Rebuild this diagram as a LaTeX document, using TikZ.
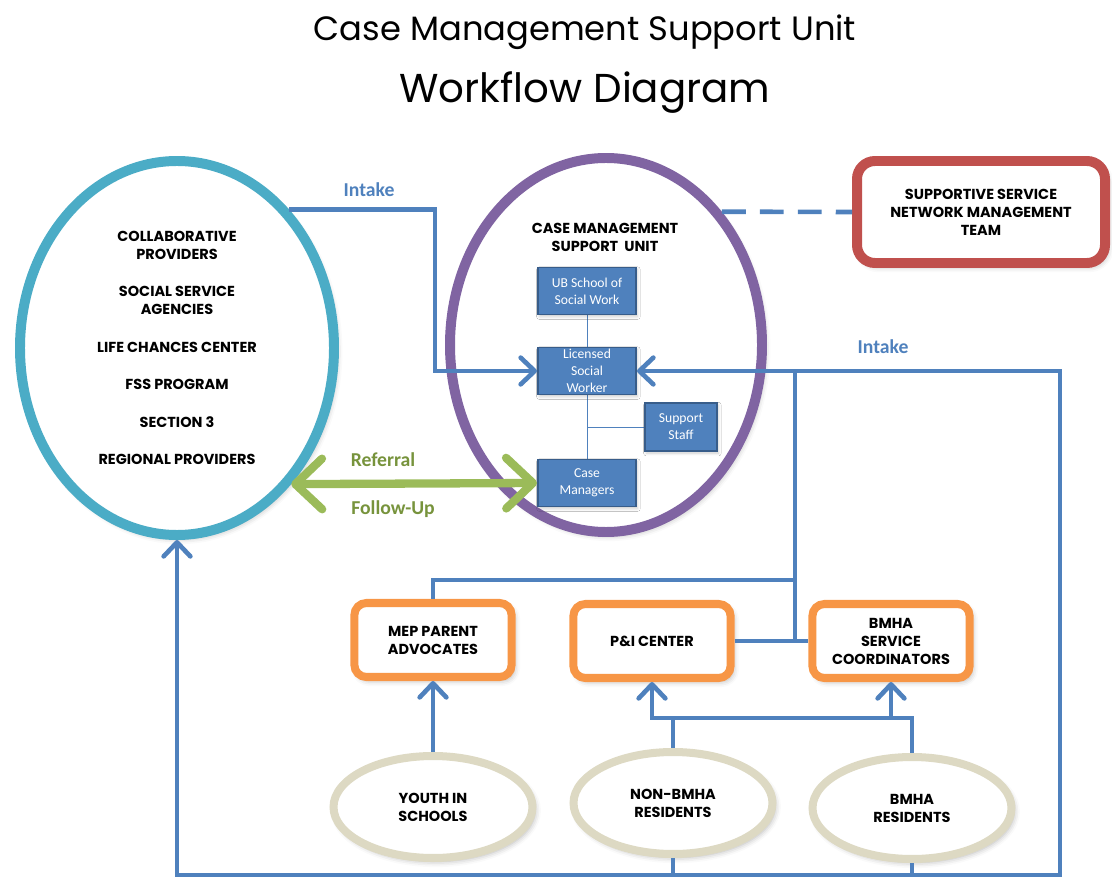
\documentclass[tikz,border=0pt]{standalone}
\usepackage{fontspec}
\setmainfont{Poppins}
\newfontfamily\calibri{Carlito}
\usetikzlibrary{arrows.meta,shapes.geometric,shadows.blur}
\definecolor{flowblue}{HTML}{4F81BD}
\definecolor{boxedge}{HTML}{385D8A}
\definecolor{provider}{HTML}{4BACC6}
\definecolor{unitpurple}{HTML}{8064A2}
\definecolor{teamred}{HTML}{C0504D}
\definecolor{agentorange}{HTML}{F79646}
\definecolor{residenttan}{HTML}{DDD9C3}
\definecolor{refergreen}{HTML}{9BBB59}
\definecolor{refertext}{HTML}{77933C}

\begin{document}
\begin{tikzpicture}[scale=0.25]
\tikzstyle{every node}+=[inner sep=0pt]
\tikzstyle{soft}=[blur shadow={shadow xshift=2pt,shadow yshift=-2.5pt,shadow opacity=30,shadow blur radius=4pt}]
\tikzstyle{caps}=[font=\fontsize{10.3}{12.8}\selectfont\bfseries,align=center]
\tikzstyle{staff}=[draw=boxedge,fill=flowblue,line width=1.4pt,text=white,align=center,font=\calibri\fontsize{9.7}{12}\selectfont,minimum width=2.45cm,minimum height=1.175cm,blur shadow={shadow xshift=1pt,shadow yshift=-1.5pt,shadow opacity=20,shadow blur radius=2pt}]
\tikzstyle{agent}=[caps,draw=agentorange,fill=white,line width=5.7pt,rounded corners=0.3cm,minimum width=3.93cm,minimum height=1.85cm,soft]
\tikzstyle{people}=[caps,ellipse,draw=residenttan,fill=white,line width=5.7pt,minimum width=4.975cm,minimum height=2.55cm,soft]
\tikzstyle{flow}=[draw=flowblue,line width=3.3pt,>={Straight Barb[length=10pt,width=19pt,round]}]
\tikzstyle{refer}=[draw=refergreen,line width=5.9pt,<->,>={Straight Barb[length=19pt,width=36pt,round]}]
\tikzstyle{tag}=[font=\calibri\bfseries\fontsize{14}{16}\selectfont]
\useasboundingbox (0,0) rectangle (111.2,-87.8);
\draw (58.5,-3.2) node[font=\fontsize{24}{29}\selectfont] (title) {Case Management Support Unit};
\draw (58.5,-9.3) node[font=\fontsize{28.7}{34}\selectfont] (subtitle) {Workflow Diagram};
\node[caps,ellipse,draw=provider,fill=white,line width=7.1pt,minimum width=7.85cm,minimum height=9.35cm,soft] (prov) at (17.7,-34.8) {COLLABORATIVE\\PROVIDERS\\[13.9pt]SOCIAL SERVICE\\AGENCIES\\[13.9pt]LIFE CHANCES CENTER\\[13.9pt]FSS PROGRAM\\[13.9pt]SECTION 3\\[13.9pt]REGIONAL PROVIDERS};
\node[ellipse,draw=unitpurple,fill=white,line width=7.1pt,minimum width=7.8cm,minimum height=9.35cm,soft] (unit) at (60.6,-34.5) {};
\node[caps] (unittitle) at (60.5,-23.75) {CASE MANAGEMENT\\SUPPORT\ \ UNIT};
\node[caps,draw=teamred,fill=white,line width=7.1pt,rounded corners=0.45cm,minimum width=6.2cm,minimum height=2.55cm,soft] (team) at (98.1,-21.2) {SUPPORTIVE SERVICE\\NETWORK MANAGEMENT\\TEAM};
\draw[flowblue,line width=0.7pt] (58.7,-29.1) -- (58.7,-48.3) (58.7,-42.7) -- (68.1,-42.7);
\node[staff] (ub) at (58.7,-29.1) {UB School of\\Social Work};
\node[staff] (lsw) at (58.7,-37.1) {Licensed\\Social\\Worker};
\node[staff,minimum width=1.8cm,minimum height=1.2cm] (sup) at (68.1,-42.7) {Support\\Staff};
\node[staff] (cm) at (58.7,-48.3) {Case\\Managers};
\node[agent] (mep) at (43.3,-64.0) {MEP PARENT\\ADVOCATES};
\node[agent] (pic) at (65.2,-64.1) {P\&I CENTER};
\node[agent] (bsc) at (89.1,-64.1) {BMHA\\SERVICE\\COORDINATORS};
\node[people] (youth) at (43.3,-80.7) {YOUTH IN\\SCHOOLS};
\node[people] (nonres) at (67.3,-80.3) {NON-BMHA\\RESIDENTS};
\node[people] (bres) at (91.2,-80.8) {BMHA\\RESIDENTS};
\coordinate (se) at (106.0,-87.5);
\coordinate (hub) at (79.5,-37.1);
\coordinate (ja) at (65.2,-71.8);
\draw[flow,->] (prov.51) -| (43.5,-37.1) -- (lsw.west);
\draw[flow,<->] (prov.south) |- (se) |- (lsw.east);
\draw[flow] (hub) -- (hub |- pic.east);
\draw[flow] (pic.east) -- (bsc.west);
\draw[flow] (mep.north) |- (79.5,-58.0);
\draw[flow,dash pattern=on 17pt off 10pt] (unit.49) -- (team.west);
\draw[flow,->] (youth.north) -- (mep.south);
\draw[flow,->] (bres.north) |- (ja) -- (pic.south);
\draw[flow] (nonres.north) -- (nonres.north |- ja);
\draw[flow,->] (bsc.south |- ja) -- (bsc.south);
\draw[flow] (nonres.south) -- (nonres.south |- se);
\draw[flow] (bres.south) -- (bres.south |- se);
\draw[refer] (prov.-50) -- (cm.west);
\draw (36.9,-19.0) node[tag,text=flowblue] (intake) {Intake};
\draw (88.3,-34.7) node[tag,text=flowblue] (intakeb) {Intake};
\draw (38.3,-46.0) node[tag,text=refertext] (referral) {Referral};
\draw (39.3,-50.9) node[tag,text=refertext] (followup) {Follow-Up};
\end{tikzpicture}
\end{document}
